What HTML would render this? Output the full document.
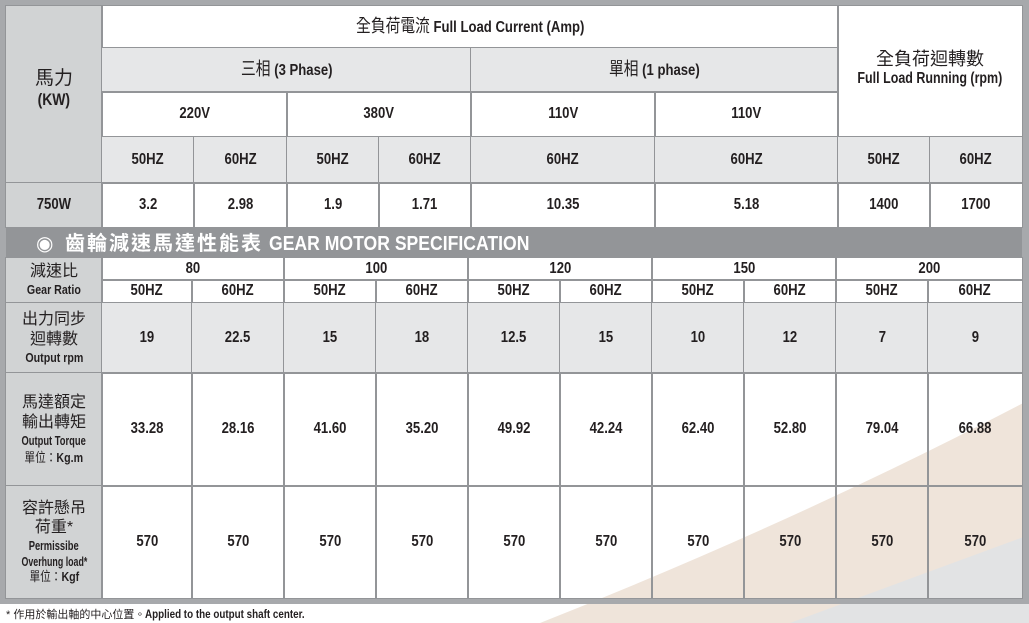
<!DOCTYPE html>
<html><head><meta charset="utf-8"><style>
body{margin:0;width:1029px;height:623px;background:#fff;position:relative;overflow:hidden;font-family:"Liberation Sans","Noto Sans CJK TC",sans-serif;font-weight:bold;color:#231f20}
.c{position:absolute;box-sizing:border-box;border:1px solid #939598;display:flex;flex-direction:column;align-items:center;justify-content:center;text-align:center;font-size:16px;line-height:1.15}
.g{background:#e6e7e8}.d{background:#d1d3d4}
.cj{font-family:"Liberation Sans","Noto Sans CJK TC",sans-serif;font-weight:normal}
.s{font-size:13px}
.n{display:inline-block;white-space:nowrap;transform:scaleX(.82)}
</style></head><body>
<svg style="position:absolute;left:0;top:0" width="1029" height="623">
<path d="M540 623 Q800 520 1029 400 L1029 623 Z" fill="#efe4da"/>
<path d="M790 623 Q920 575 1029 535 L1029 623 Z" fill="#e2e3e4"/>
</svg>
<div style="position:absolute;left:0;top:0;width:1029px;height:604px;box-sizing:border-box;border:6px solid #a7a9ac;border-right-width:7px"></div>
<div class="c d" style="left:5px;top:5px;width:98px;height:179px;justify-content:flex-start;padding-top:62px;font-size:17px"><span class="cj" style="font-size:19px">馬力</span><span class="n">(KW)</span></div>
<div class="c" style="left:101px;top:5px;width:738px;height:43px;font-size:16px"><span class="n"><span class="cj" style="font-size:18px">全負荷電流</span> Full Load Current (Amp)</span></div>
<div class="c g" style="left:101px;top:47px;width:371px;height:46px;font-size:16px"><span class="n"><span class="cj" style="font-size:18px">三相</span> (3 Phase)</span></div>
<div class="c g" style="left:470px;top:47px;width:369px;height:46px;font-size:16px"><span class="n"><span class="cj" style="font-size:18px">單相</span> (1 phase)</span></div>
<div class="c" style="left:837px;top:5px;width:186px;height:133px;font-size:16px;padding-bottom:6px"><span class="cj" style="font-size:18px">全負荷迴轉數</span><span class="n" style="transform:scaleX(.78)">Full Load Running (rpm)</span></div>
<div class="c" style="left:101px;top:91px;width:187px;height:47px"><span class="n">220V</span></div>
<div class="c" style="left:286px;top:91px;width:186px;height:47px"><span class="n">380V</span></div>
<div class="c" style="left:470px;top:91px;width:186px;height:47px"><span class="n">110V</span></div>
<div class="c" style="left:654px;top:91px;width:185px;height:47px"><span class="n">110V</span></div>
<div class="c g" style="left:101px;top:136px;width:94px;height:48px"><span class="n">50HZ</span></div>
<div class="c g" style="left:193px;top:136px;width:95px;height:48px"><span class="n">60HZ</span></div>
<div class="c g" style="left:286px;top:136px;width:94px;height:48px"><span class="n">50HZ</span></div>
<div class="c g" style="left:378px;top:136px;width:94px;height:48px"><span class="n">60HZ</span></div>
<div class="c g" style="left:470px;top:136px;width:186px;height:48px"><span class="n">60HZ</span></div>
<div class="c g" style="left:654px;top:136px;width:185px;height:48px"><span class="n">60HZ</span></div>
<div class="c g" style="left:837px;top:136px;width:94px;height:48px"><span class="n">50HZ</span></div>
<div class="c g" style="left:929px;top:136px;width:94px;height:48px"><span class="n">60HZ</span></div>
<div class="c d" style="left:5px;top:182px;width:98px;height:46px"><span class="n">750W</span></div>
<div class="c" style="left:101px;top:182px;width:94px;height:46px"><span class="n">3.2</span></div>
<div class="c" style="left:193px;top:182px;width:95px;height:46px"><span class="n">2.98</span></div>
<div class="c" style="left:286px;top:182px;width:94px;height:46px"><span class="n">1.9</span></div>
<div class="c" style="left:378px;top:182px;width:94px;height:46px"><span class="n">1.71</span></div>
<div class="c" style="left:470px;top:182px;width:186px;height:46px"><span class="n">10.35</span></div>
<div class="c" style="left:654px;top:182px;width:185px;height:46px"><span class="n">5.18</span></div>
<div class="c" style="left:837px;top:182px;width:94px;height:46px"><span class="n">1400</span></div>
<div class="c" style="left:929px;top:182px;width:94px;height:46px"><span class="n">1700</span></div>
<div style="position:absolute;left:6px;top:228px;width:1016px;height:30px;background:#939598;color:#fff;font-size:20px;line-height:30px;white-space:nowrap"><span style="margin-left:30px;font-family:'DejaVu Sans',sans-serif;font-weight:normal">◉</span> <span class="cj" style="font-weight:bold;margin-left:6px;letter-spacing:2px">齒輪減速馬達性能表</span>&nbsp;<span class="n" style="transform-origin:left;transform:scaleX(.88)">GEAR MOTOR SPECIFICATION</span></div>
<div class="c d" style="left:5px;top:257px;width:98px;height:47px;line-height:1.25"><span class="cj" style="font-size:16px">減速比</span><span class="s n">Gear Ratio</span></div>
<div class="c" style="left:101px;top:257px;width:184px;height:24px"><span class="n">80</span></div>
<div class="c" style="left:283px;top:257px;width:186px;height:24px"><span class="n">100</span></div>
<div class="c" style="left:467px;top:257px;width:186px;height:24px"><span class="n">120</span></div>
<div class="c" style="left:651px;top:257px;width:186px;height:24px"><span class="n">150</span></div>
<div class="c" style="left:835px;top:257px;width:188px;height:24px"><span class="n">200</span></div>
<div class="c" style="left:101px;top:279px;width:92px;height:25px"><span class="n">50HZ</span></div>
<div class="c" style="left:191px;top:279px;width:94px;height:25px"><span class="n">60HZ</span></div>
<div class="c" style="left:283px;top:279px;width:94px;height:25px"><span class="n">50HZ</span></div>
<div class="c" style="left:375px;top:279px;width:94px;height:25px"><span class="n">60HZ</span></div>
<div class="c" style="left:467px;top:279px;width:94px;height:25px"><span class="n">50HZ</span></div>
<div class="c" style="left:559px;top:279px;width:94px;height:25px"><span class="n">60HZ</span></div>
<div class="c" style="left:651px;top:279px;width:94px;height:25px"><span class="n">50HZ</span></div>
<div class="c" style="left:743px;top:279px;width:94px;height:25px"><span class="n">60HZ</span></div>
<div class="c" style="left:835px;top:279px;width:94px;height:25px"><span class="n">50HZ</span></div>
<div class="c" style="left:927px;top:279px;width:96px;height:25px"><span class="n">60HZ</span></div>
<div class="c d" style="left:5px;top:302px;width:98px;height:72px;line-height:1.25"><span class="cj" style="font-size:16px">出力同步</span><span class="cj" style="font-size:16px">迴轉數</span><span class="s n">Output rpm</span></div>
<div class="c g" style="left:101px;top:302px;width:92px;height:72px"><span class="n">19</span></div>
<div class="c g" style="left:191px;top:302px;width:94px;height:72px"><span class="n">22.5</span></div>
<div class="c g" style="left:283px;top:302px;width:94px;height:72px"><span class="n">15</span></div>
<div class="c g" style="left:375px;top:302px;width:94px;height:72px"><span class="n">18</span></div>
<div class="c g" style="left:467px;top:302px;width:94px;height:72px"><span class="n">12.5</span></div>
<div class="c g" style="left:559px;top:302px;width:94px;height:72px"><span class="n">15</span></div>
<div class="c g" style="left:651px;top:302px;width:94px;height:72px"><span class="n">10</span></div>
<div class="c g" style="left:743px;top:302px;width:94px;height:72px"><span class="n">12</span></div>
<div class="c g" style="left:835px;top:302px;width:94px;height:72px"><span class="n">7</span></div>
<div class="c g" style="left:927px;top:302px;width:96px;height:72px"><span class="n">9</span></div>
<div class="c d" style="left:5px;top:372px;width:98px;height:115px;line-height:1.25"><span class="cj" style="font-size:16px">馬達額定</span><span class="cj" style="font-size:16px">輸出轉矩</span><span class="s n" style="transform:scaleX(.72)">Output Torque</span><span class="s n"><span class="cj">單位：</span>Kg.m</span></div>
<div class="c" style="left:101px;top:372px;width:92px;height:115px"><span class="n">33.28</span></div>
<div class="c" style="left:191px;top:372px;width:94px;height:115px"><span class="n">28.16</span></div>
<div class="c" style="left:283px;top:372px;width:94px;height:115px"><span class="n">41.60</span></div>
<div class="c" style="left:375px;top:372px;width:94px;height:115px"><span class="n">35.20</span></div>
<div class="c" style="left:467px;top:372px;width:94px;height:115px"><span class="n">49.92</span></div>
<div class="c" style="left:559px;top:372px;width:94px;height:115px"><span class="n">42.24</span></div>
<div class="c" style="left:651px;top:372px;width:94px;height:115px"><span class="n">62.40</span></div>
<div class="c" style="left:743px;top:372px;width:94px;height:115px"><span class="n">52.80</span></div>
<div class="c" style="left:835px;top:372px;width:94px;height:115px"><span class="n">79.04</span></div>
<div class="c" style="left:927px;top:372px;width:96px;height:115px"><span class="n">66.88</span></div>
<div class="c d" style="left:5px;top:485px;width:98px;height:114px;line-height:1.22"><span class="cj" style="font-size:16px">容許懸吊</span><span class="cj" style="font-size:16px">荷重*</span><span class="s n" style="transform:scaleX(.72)">Permissibe</span><span class="s n" style="transform:scaleX(.68)">Overhung load*</span><span class="s n"><span class="cj">單位：</span>Kgf</span></div>
<div class="c" style="left:101px;top:485px;width:92px;height:114px"><span class="n">570</span></div>
<div class="c" style="left:191px;top:485px;width:94px;height:114px"><span class="n">570</span></div>
<div class="c" style="left:283px;top:485px;width:94px;height:114px"><span class="n">570</span></div>
<div class="c" style="left:375px;top:485px;width:94px;height:114px"><span class="n">570</span></div>
<div class="c" style="left:467px;top:485px;width:94px;height:114px"><span class="n">570</span></div>
<div class="c" style="left:559px;top:485px;width:94px;height:114px"><span class="n">570</span></div>
<div class="c" style="left:651px;top:485px;width:94px;height:114px"><span class="n">570</span></div>
<div class="c" style="left:743px;top:485px;width:94px;height:114px"><span class="n">570</span></div>
<div class="c" style="left:835px;top:485px;width:94px;height:114px"><span class="n">570</span></div>
<div class="c" style="left:927px;top:485px;width:96px;height:114px"><span class="n">570</span></div>
<div style="position:absolute;left:6px;top:606px;font-size:12px;white-space:nowrap"><span class="cj" style="font-size:11px">* 作用於輸出軸的中心位置。</span><span class="n" style="transform-origin:left">Applied to the output shaft center.</span></div>
</body></html>
